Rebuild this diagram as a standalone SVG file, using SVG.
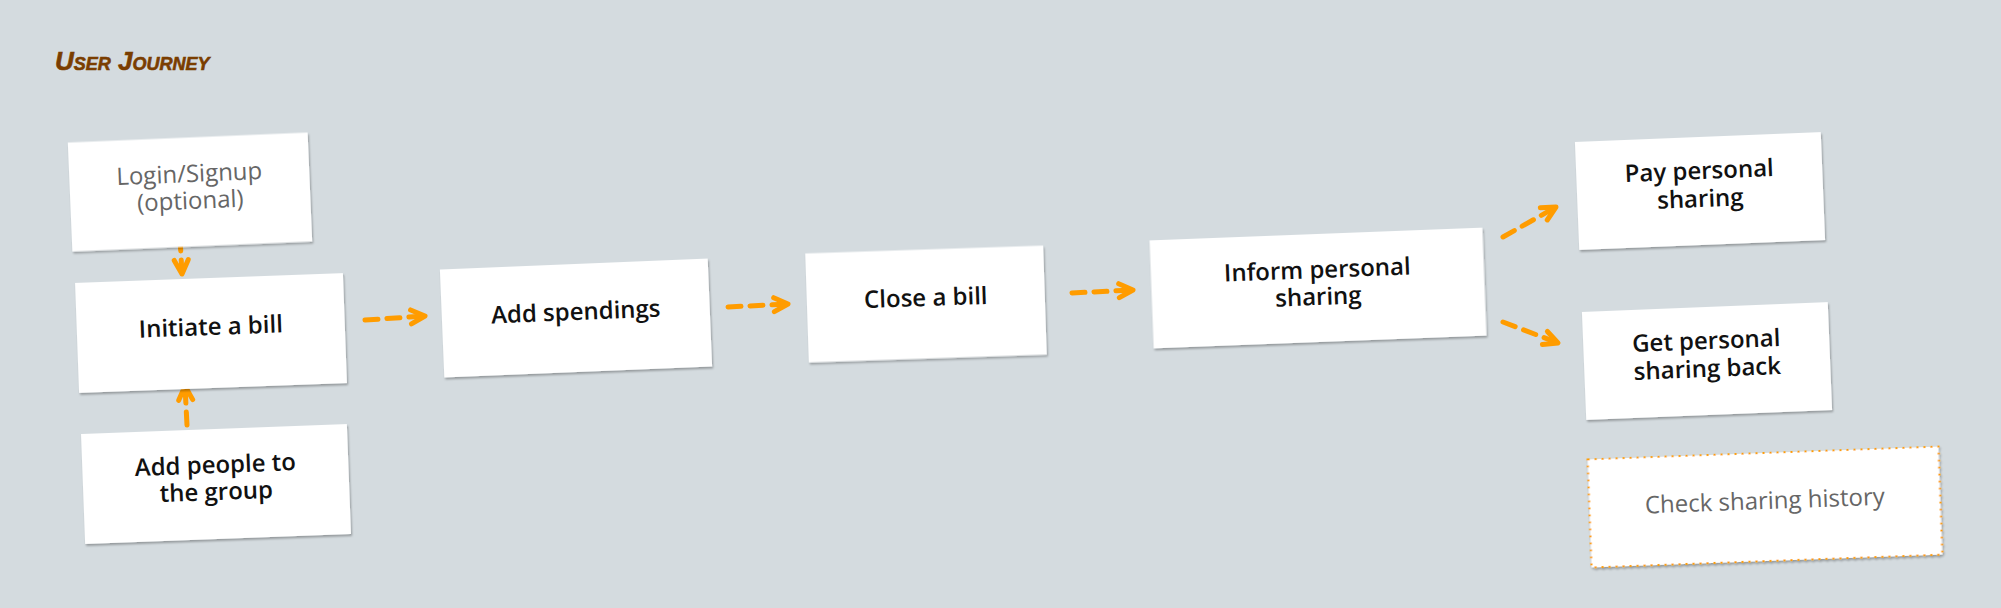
<svg xmlns="http://www.w3.org/2000/svg" width="2001" height="608" viewBox="0 0 2001 608">
  <style>
    .card { fill: #ffffff; filter: url(#sh); }
    .dotted { fill: #ffffff; stroke: #ff9c00; stroke-width: 2; stroke-dasharray: 2 5; filter: url(#sh); }
    .t { font-family: "Open Sans", "Noto Sans", sans-serif; font-size: 24px; text-anchor: middle; }
    .b { font-weight: 600; fill: #111111; }
    .g { font-weight: 400; fill: #666666; }
    .title { font-family: "Liberation Sans", sans-serif; font-weight: 700; font-style: italic; font-size: 26px; font-variant: small-caps; fill: #7a3d00; stroke: #7a3d00; stroke-width: 0.6; }
    .arr { fill: none; stroke: #ff9c00; stroke-width: 5; stroke-linecap: round; stroke-dasharray: 13 9; marker-end: url(#chev); }
  </style>
  <defs>
    <filter id="sh" x="-10%" y="-10%" width="120%" height="130%">
      <feDropShadow dx="1" dy="2" stdDeviation="1.2" flood-color="#000000" flood-opacity="0.3"/>
    </filter>
    <marker id="chev" viewBox="0 0 22 22" refX="17" refY="11" markerWidth="22" markerHeight="22" markerUnits="userSpaceOnUse" orient="auto">
      <path d="M3,4 L17,11 L3,18" fill="none" stroke="#ff9c00" stroke-width="5" stroke-linecap="round" stroke-linejoin="round"/>
    </marker>
  </defs>
  <rect x="0" y="0" width="2001" height="608" fill="#d4dbdf"/>
  <text class="title" x="55" y="70">User Journey</text>

  <g id="connectors">
    <path class="arr" d="M180,238 L182,274"/>
    <path class="arr" d="M187,425 L185,386"/>
    <path class="arr" d="M365,320 L425,316"/>
    <path class="arr" d="M728,307 L788,304"/>
    <path class="arr" d="M1072,293 L1133,290"/>
    <path class="arr" d="M1503,237 L1556,207"/>
    <path class="arr" d="M1503,322 L1558,343"/>
  </g>

  <g id="login" transform="translate(190,192) rotate(-2.4)">
    <rect class="card" x="-120" y="-54.5" width="240" height="109"/>
    <text class="t g" x="0" y="-10">Login/Signup</text>
    <text class="t g" x="0" y="17">(optional)</text>
  </g>
  <g id="initiate" transform="translate(211,333) rotate(-2.1)">
    <rect class="card" x="-134" y="-55" width="268" height="110"/>
    <text class="t b" x="0" y="2">Initiate a bill</text>
  </g>
  <g id="people" transform="translate(216,484) rotate(-2.15)">
    <rect class="card" x="-133" y="-55" width="266" height="110"/>
    <text class="t b" x="0" y="-11">Add people to</text>
    <text class="t b" x="0" y="16">the group</text>
  </g>
  <g id="spendings" transform="translate(576,318) rotate(-2.35)">
    <rect class="card" x="-134" y="-54" width="268" height="108"/>
    <text class="t b" x="0" y="2">Add spendings</text>
  </g>
  <g id="close" transform="translate(926,304) rotate(-1.9)">
    <rect class="card" x="-119" y="-54.5" width="238" height="109"/>
    <text class="t b" x="0" y="2">Close a bill</text>
  </g>
  <g id="inform" transform="translate(1318,288) rotate(-2.2)">
    <rect class="card" x="-166.5" y="-54" width="333" height="108"/>
    <text class="t b" x="0" y="-10">Inform personal</text>
    <text class="t b" x="0" y="17">sharing</text>
  </g>
  <g id="pay" transform="translate(1700,191) rotate(-2.3)">
    <rect class="card" x="-123" y="-54" width="246" height="108"/>
    <text class="t b" x="0" y="-12">Pay personal</text>
    <text class="t b" x="0" y="16">sharing</text>
  </g>
  <g id="get" transform="translate(1707,361) rotate(-2.3)">
    <rect class="card" x="-123" y="-54" width="246" height="108"/>
    <text class="t b" x="0" y="-12">Get personal</text>
    <text class="t b" x="0" y="16">sharing back</text>
  </g>
  <g id="history" transform="translate(1765,507) rotate(-2.1)">
    <rect class="dotted" x="-175.5" y="-54" width="351" height="108"/>
    <text class="t g" x="0" y="2">Check sharing history</text>
  </g>
</svg>
